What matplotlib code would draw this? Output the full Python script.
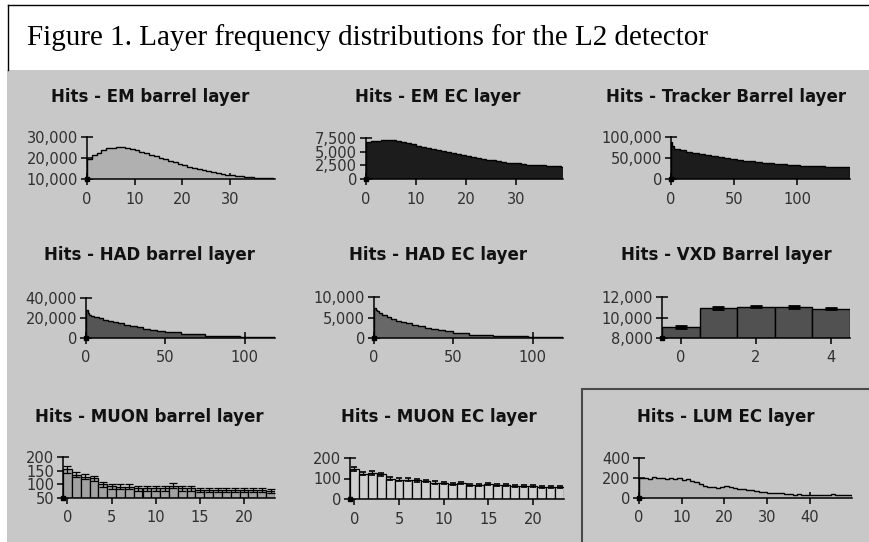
import numpy as np
import matplotlib
matplotlib.use("Agg")
import matplotlib.pyplot as plt
from matplotlib.ticker import FuncFormatter
from matplotlib.patches import Rectangle
from matplotlib.lines import Line2D

# ---- data ----
em_barrel = [19500, 21500, 22500, 23800, 24600, 25000, 25300, 25200, 24800, 24200,
             23600, 23000, 22300, 21600, 20900, 20200, 19500, 18800, 18000, 17200,
             16500, 15900, 15300, 14700, 14100, 13600, 13100, 12700, 12300, 12000,
             11700, 11400, 11200, 11000, 10800, 10600, 10500, 10400, 10300, 10200]

em_ec = [6700, 6900, 7000, 7100, 7100, 7050, 6950, 6800, 6600, 6350,
         6100, 5900, 5700, 5500, 5300, 5100, 4900, 4700, 4500, 4350,
         4200, 4000, 3850, 3700, 3550, 3400, 3250, 3100, 3000, 2900,
         2850, 2750, 2650, 2600, 2550, 2500, 2450, 2450, 2350, 2250]

tracker_edges = [0, 1, 2, 7, 12, 17, 22, 27, 32, 37, 42, 47, 52, 57, 62, 67, 72,
                 77, 82, 87, 92, 97, 102, 107, 112, 117, 122, 127, 132, 137, 142]
tracker = [88000, 78000, 71000, 68000, 65000, 62000, 59000, 56500, 54000, 51500,
           49500, 47500, 45500, 43500, 42000, 40500, 39000, 37500, 36000, 35000,
           34000, 33000, 32000, 31200, 30500, 30000, 29500, 29200, 29000, 28800]

had_edges = [0, 1, 2, 3, 5, 8, 11, 14, 17, 20, 24, 28, 32, 36, 40, 45, 50, 60, 75, 97, 119]
had_barrel = [28000, 25000, 23500, 22500, 21000, 19800, 18500, 17300, 16200, 15000,
              13500, 12000, 10700, 9500, 8300, 7200, 5800, 4000, 2000, 600]
had_ec = [7200, 6800, 6500, 6200, 5700, 5100, 4600, 4200, 3900, 3600,
          3200, 2850, 2500, 2200, 1900, 1600, 1200, 850, 450, 200]

vxd_layer = [0, 1, 2, 3, 4]
vxd = [9100, 10900, 11050, 11050, 10850]
vxd_err = [90, 80, 70, 80, 60]

muon_layer = list(range(24))
muon_barrel = [155, 135, 128, 122, 100, 93, 92, 92, 85, 85, 85, 85,
               95, 85, 85, 80, 80, 80, 80, 80, 80, 80, 80, 75]
muon_barrel_err = [12, 10, 10, 10, 9, 9, 9, 9, 8, 8, 8, 8,
                   9, 8, 8, 8, 8, 8, 8, 8, 8, 8, 8, 8]
muon_ec = [148, 124, 127, 120, 100, 95, 95, 92, 88, 80, 78, 72,
           77, 66, 66, 72, 66, 70, 64, 63, 63, 60, 60, 60]
muon_ec_err = [10, 8, 8, 8, 7, 7, 7, 7, 6, 6, 6, 6,
               6, 5, 5, 5, 5, 5, 5, 5, 5, 5, 5, 5]

lum_ec = [205, 200, 195, 210, 200, 205, 195, 200, 190, 205,
          185, 190, 175, 160, 140, 120, 115, 110, 105, 115,
          125, 110, 100, 95, 90, 85, 80, 75, 65, 60,
          55, 55, 50, 50, 45, 40, 35, 38, 35, 32,
          35, 30, 35, 30, 32, 40, 35, 30, 35, 30]

W, H = 870, 542
BG = "#c8c8c8"

fig = plt.figure(figsize=(W / 100, H / 100), dpi=100)
fig.patch.set_facecolor("white")

# grey panel area and title box
fig.patches.append(Rectangle((7 / W, 0), 1, 1 - 70 / H, transform=fig.transFigure,
                             facecolor=BG, edgecolor="none", zorder=-5))
fig.lines.append(Line2D([8 / W, 1], [1 - 5 / H, 1 - 5 / H], transform=fig.transFigure,
                        color="black", lw=1))
fig.lines.append(Line2D([8 / W, 8 / W], [1 - 5 / H, 1 - 70 / H], transform=fig.transFigure,
                        color="black", lw=1))
fig.text(27 / W, 1 - 38 / H, "Figure 1. Layer frequency distributions for the L2 detector",
         family="Liberation Serif", fontsize=21, va="center", ha="left")

# selected panel frame
fig.patches.append(Rectangle((582 / W, -0.01), 0.5, 1 - 389 / H + 0.01,
                             transform=fig.transFigure, facecolor="none",
                             edgecolor="#4a4a4a", lw=1.5, zorder=5))

comma = FuncFormatter(lambda v, p: f"{int(round(v)):,}")


def make_ax(box, title, tcx, tcy, xlim, ylim, xticks, yticks):
    l, r, t, b = box
    ax = fig.add_axes([l / W, 1 - b / H, (r - l) / W, (b - t) / H])
    ax.set_facecolor("none")
    ax.set_xlim(xlim)
    ax.set_ylim(ylim)
    ax.set_xticks(xticks)
    ax.set_yticks(yticks)
    ax.yaxis.set_major_formatter(comma)
    for s in ["top", "right"]:
        ax.spines[s].set_visible(False)
    for s in ["left", "bottom"]:
        ax.spines[s].set_linewidth(1.1)
        ax.spines[s].set_zorder(4)
    ax.tick_params(direction="inout", length=9, width=1.1, colors="black",
                   labelcolor="#303030", labelsize=10.5, pad=2)
    ax.tick_params(axis="x", pad=4.5)
    for lab in ax.get_xticklabels() + ax.get_yticklabels():
        lab.set_family("DejaVu Sans")
    ax.plot([xlim[0]], [ylim[0]], "ks", ms=3, clip_on=False, zorder=6)
    fig.text(tcx / W, 1 - tcy / H, title, family="DejaVu Sans", weight="bold",
             fontsize=12, ha="center", va="center", color="#111111")
    return ax


def step_hist(ax, vals, edges, fill, base=0):
    ax.stairs(vals, edges, baseline=base, fill=True, color=fill, zorder=2)
    ax.stairs(vals, edges, baseline=base, color="black", lw=1, zorder=3)


# row 1
ax = make_ax((87, 275, 137, 179), "Hits - EM barrel layer", 150, 97,
             (0, 39.4), (10000, 30000), [0, 10, 20, 30], [10000, 20000, 30000])
step_hist(ax, em_barrel, np.arange(len(em_barrel) + 1), "#b0b0b0", base=10000)

ax = make_ax((366, 563, 138, 179), "Hits - EM EC layer", 438, 97,
             (0, 39.4), (0, 7500), [0, 10, 20, 30], [0, 2500, 5000, 7500])
step_hist(ax, em_ec, np.arange(len(em_ec) + 1), "#1c1c1c")

ax = make_ax((671, 850, 137, 179), "Hits - Tracker Barrel layer", 726, 97,
             (0, 142), (0, 100000), [0, 50, 100], [0, 50000, 100000])
step_hist(ax, tracker, tracker_edges, "#1c1c1c")

# row 2
ax = make_ax((86, 275, 298, 338), "Hits - HAD barrel layer", 150, 255,
             (0, 119), (0, 40000), [0, 50, 100], [0, 20000, 40000])
step_hist(ax, had_barrel, had_edges, "#555555")

ax = make_ax((374, 563, 297, 338), "Hits - HAD EC layer", 438, 255,
             (0, 119), (0, 10000), [0, 50, 100], [0, 5000, 10000])
step_hist(ax, had_ec, had_edges, "#686868")

ax = make_ax((662, 850, 297, 338), "Hits - VXD Barrel layer", 726, 255,
             (-0.5, 4.5), (8000, 12000), [0, 2, 4], [8000, 10000, 12000])
ax.bar(vxd_layer, np.array(vxd) - 8000, bottom=8000, width=1, color="#515151",
       edgecolor="black", lw=1, zorder=2)
ax.errorbar(vxd_layer, vxd, yerr=vxd_err, fmt="none", ecolor="black",
            capsize=4, capthick=2, elinewidth=1, zorder=3)

# row 3
ax = make_ax((63, 275, 457, 498), "Hits - MUON barrel layer", 149, 417,
             (-0.5, 23.5), (50, 200), [0, 5, 10, 15, 20], [50, 100, 150, 200])
ax.bar(muon_layer, np.array(muon_barrel) - 50, bottom=50, width=1, color="#a2a2a2",
       edgecolor="black", lw=0.9, zorder=2)
ax.errorbar(muon_layer, muon_barrel, yerr=muon_barrel_err, fmt="none", ecolor="black",
            capsize=3.2, elinewidth=0.9, capthick=0.9, zorder=3)

ax = make_ax((350, 564, 458, 499), "Hits - MUON EC layer", 439, 417,
             (-0.5, 23.5), (0, 200), [0, 5, 10, 15, 20], [0, 100, 200])
ax.bar(muon_layer, muon_ec, width=1, color="#cfcfcf", edgecolor="black", lw=0.9, zorder=2)
ax.errorbar(muon_layer, muon_ec, yerr=muon_ec_err, fmt="none", ecolor="black",
            capsize=2.5, elinewidth=0.9, capthick=1.2, zorder=3)

ax = make_ax((639, 852, 458, 498), "Hits - LUM EC layer", 726, 417,
             (0, 49.9), (0, 400), [0, 10, 20, 30, 40], [0, 200, 400])
step_hist(ax, lum_ec, np.arange(len(lum_ec) + 1), "#b4b4b4")

fig.savefig("out.png", dpi=100, facecolor=fig.get_facecolor())
